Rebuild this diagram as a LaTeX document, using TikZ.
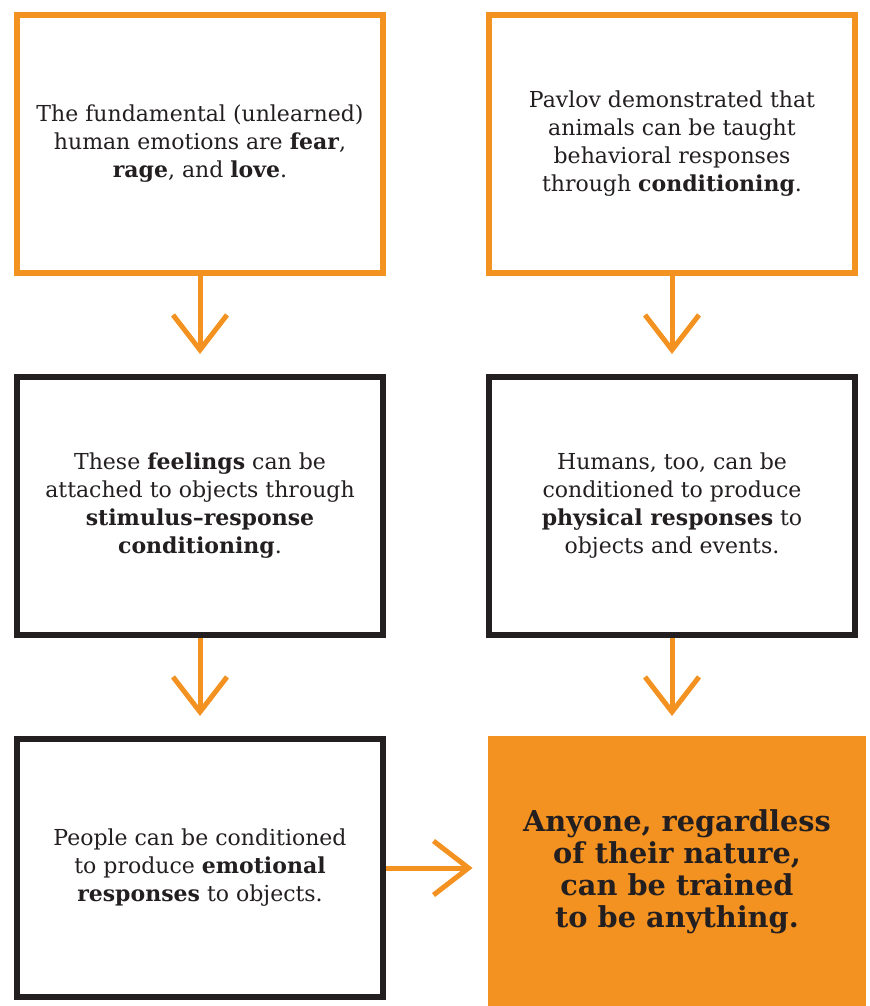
\documentclass[tikz,border=0pt]{standalone}
\usepackage{fontspec}
\setmainfont{DejaVu Serif}
\usetikzlibrary{arrows.meta,positioning}
\definecolor{bkorange}{RGB}{243,146,32}
\definecolor{bkink}{RGB}{35,31,32}

\begin{document}
\begin{tikzpicture}[node distance=49pt and 50pt,
      font=\fontsize{11}{14}\selectfont,text=bkink,
      box/.style={draw,line width=3pt,minimum width=183pt,minimum height=129pt,align=center,fill=white},
      idea/.style={box,draw=bkorange},
      link/.style={box,draw=bkink},
      goal/.style={fill=bkorange,minimum width=189pt,minimum height=135pt,align=center,font=\fontsize{14.4}{16}\selectfont\bfseries},
      flow/.style={-{Straight Barb[length=17.5pt,width=27pt]},line width=2.5pt,draw=bkorange}]
  \useasboundingbox (0,0) rectangle (435pt,-503pt);
  \node[idea] (fear) at (100pt,-72pt) {The fundamental (unlearned)\\ human emotions are \textbf{fear},\\ \textbf{rage}, and \textbf{love}.};
  \node[idea,right=of fear] (pavlov) {Pavlov demonstrated that\\ animals can be taught\\ behavioral responses\\ through \textbf{conditioning}.};
  \node[link,below=of fear] (feelings) {These \textbf{feelings} can be\\ attached to objects through\\ \textbf{stimulus--response}\\ \textbf{conditioning}.};
  \node[link,below=of pavlov] (humans) {Humans, too, can be\\ conditioned to produce\\ \textbf{physical responses} to\\ objects and events.};
  \node[link,below=of feelings] (people) {People can be conditioned\\ to produce \textbf{emotional}\\ \textbf{responses} to objects.};
  \node[goal,below=of humans,xshift=2.5pt] (anyone) {Anyone, regardless\\ of their nature,\\ can be trained\\ to be anything.};
  % arrows between the boxes
  \draw[flow,shorten >=10pt] (fear) -- (feelings);
  \draw[flow,shorten >=10pt] (pavlov) -- (humans);
  \draw[flow,shorten >=10pt] (feelings) -- (people);
  \draw[flow,shorten >=10pt] (humans.south) -- (humans.south|-anyone.north);
  \draw[flow,shorten >=7.5pt] (people) -- (people-|anyone.west);
\end{tikzpicture}
\end{document}
